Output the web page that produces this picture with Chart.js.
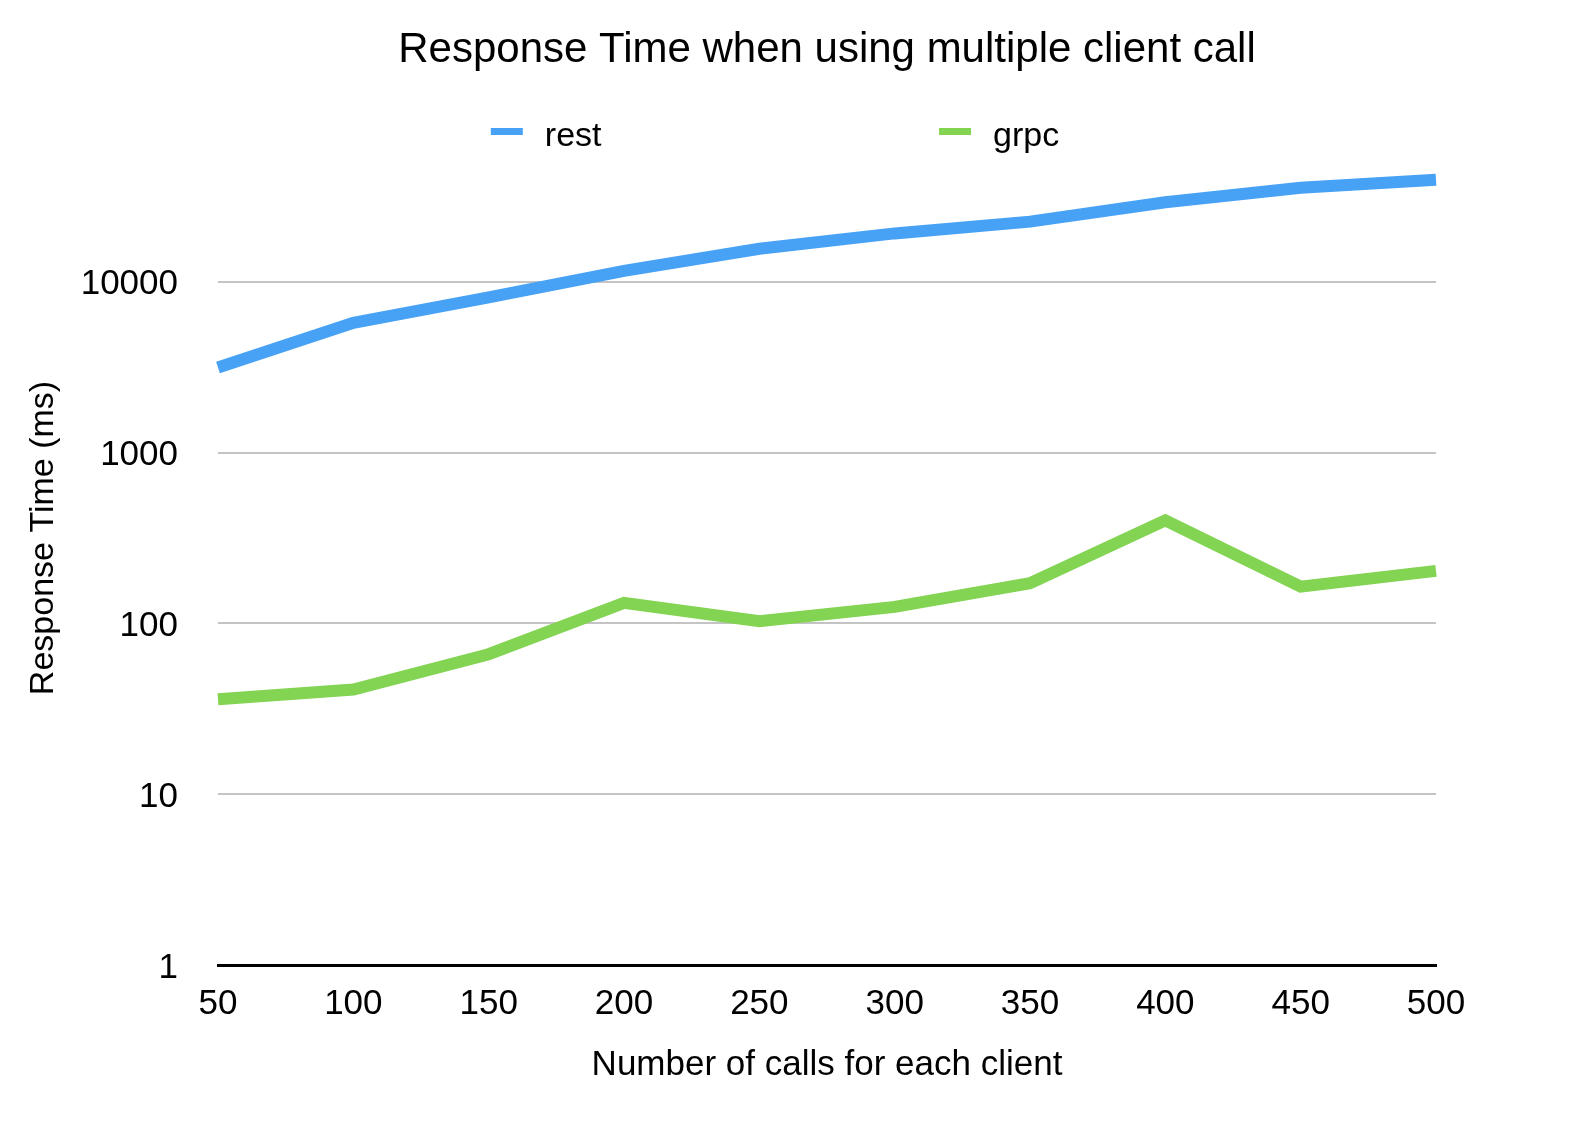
<!DOCTYPE html>
<html>
<head>
<meta charset="utf-8">
<script src="https://cdn.jsdelivr.net/npm/chart.js@4/dist/chart.umd.min.js"></script>
<style>
  html, body { margin: 0; padding: 0; background: #ffffff; }
  #wrap { width: 1572px; height: 1146px; }
</style>
</head>
<body>
<div id="wrap"><canvas id="c" width="1572" height="1146"></canvas></div>
<script>
const chartTitle = 'Response Time when using multiple client call';
const xAxisTitle = 'Number of calls for each client';
const yAxisTitle = 'Response Time (ms)';
const categories = ['50', '100', '150', '200', '250', '300', '350', '400', '450', '500'];
const restValues = [3150, 5750, 8100, 11600, 15600, 19200, 22500, 29200, 35500, 39600];
const grpcValues = [36, 41, 66, 132, 103, 125, 172, 401, 164, 203];
const yTickValues = [1, 10, 100, 1000, 10000];
const seriesNames = ['rest', 'grpc'];
const seriesColors = ['#47A2F6', '#83D452'];

const FONT = "'Liberation Sans', Arial, Helvetica, sans-serif";

const headerPlugin = {
  id: 'header',
  afterDraw(chart) {
    const ctx = chart.ctx;
    const area = chart.chartArea;
    const cx = (area.left + area.right) / 2;
    ctx.save();
    ctx.fillStyle = '#000000';
    ctx.font = '42px ' + FONT;
    ctx.textAlign = 'center';
    ctx.textBaseline = 'alphabetic';
    ctx.fillText(chartTitle, cx, area.top - 49);
    // legend
    const w = area.right - area.left;
    const fracs = [0.224, 0.592];
    ctx.font = '34px ' + FONT;
    ctx.textAlign = 'left';
    chart.data.datasets.forEach((ds, i) => {
      const x = area.left + fracs[i] * w;
      ctx.fillStyle = ds.borderColor;
      ctx.fillRect(x, area.top + 17, 32, 7);
      ctx.fillStyle = '#000000';
      ctx.fillText(ds.label, x + 54, area.top + 35);
    });
    ctx.restore();
  }
};

new Chart(document.getElementById('c'), {
  type: 'line',
  data: {
    labels: categories,
    datasets: [
      { label: seriesNames[0], data: restValues, borderColor: seriesColors[0], backgroundColor: seriesColors[0] },
      { label: seriesNames[1], data: grpcValues, borderColor: seriesColors[1], backgroundColor: seriesColors[1] }
    ]
  },
  options: {
    responsive: false,
    animation: false,
    devicePixelRatio: 1,
    layout: { padding: { top: 111, left: 10, right: 136, bottom: 55 } },
    elements: {
      line: { borderWidth: 12, tension: 0, borderJoinStyle: 'miter', borderCapStyle: 'butt', fill: false },
      point: { radius: 0, hoverRadius: 0 }
    },
    plugins: {
      legend: { display: false },
      title: { display: false },
      tooltip: { enabled: false }
    },
    scales: {
      x: {
        type: 'category',
        offset: false,
        grid: { display: false, drawTicks: false },
        border: { display: true, color: '#000000', width: 3 },
        ticks: { color: '#000000', font: { family: FONT, size: 35 }, padding: 18, maxRotation: 0, autoSkip: false },
        title: { display: true, text: xAxisTitle, color: '#000000', font: { family: FONT, size: 35 }, padding: { top: 19, bottom: 5 } },
        afterFit(scale) { scale.height = 126; }
      },
      y: {
        type: 'logarithmic',
        min: 1,
        max: 100000,
        afterBuildTicks(scale) {
          scale.ticks = yTickValues.map(v => ({ value: v, major: true }));
        },
        grid: {
          drawTicks: false,
          lineWidth: 2,
          color: (c) => (c.tick && c.tick.value === 1) ? 'rgba(0,0,0,0)' : '#C4C4C4'
        },
        border: { display: false },
        ticks: {
          color: '#000000',
          font: { family: FONT, size: 35 },
          padding: 40,
          labelOffset: 3,
          callback: (v) => String(v)
        },
        title: { display: true, text: yAxisTitle, color: '#000000', font: { family: FONT, size: 34 }, padding: { top: 13, bottom: 20 } },
        afterFit(scale) { scale.width = 208; }
      }
    }
  },
  plugins: [headerPlugin]
});
</script>
</body>
</html>
